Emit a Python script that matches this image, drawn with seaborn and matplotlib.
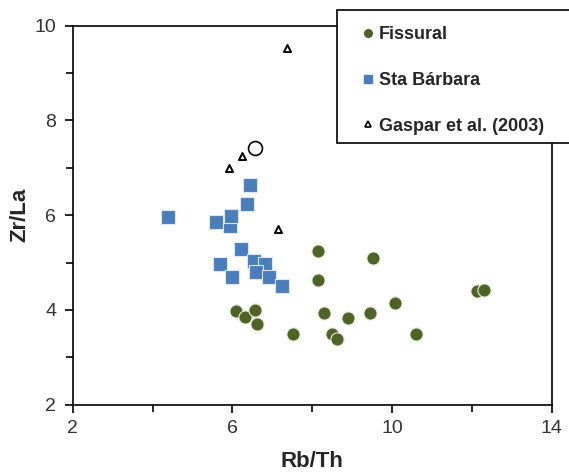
import matplotlib
matplotlib.use("Agg")
import matplotlib.pyplot as plt
import seaborn as sns
import pandas as pd
from matplotlib.lines import Line2D
from matplotlib.patches import Rectangle

# Data
fissural_x = [6.10, 6.32, 6.57, 6.62, 7.53, 8.14, 8.16, 8.30, 8.51, 8.62, 8.89, 9.53, 9.46, 10.09, 10.60, 12.14, 12.32]
fissural_y = [3.98, 3.86, 4.00, 3.70, 3.50, 5.24, 4.63, 3.94, 3.49, 3.38, 3.84, 5.09, 3.94, 4.15, 3.49, 4.41, 4.42]

stab_x = [4.40, 5.60, 5.95, 5.97, 6.45, 6.38, 6.21, 5.68, 6.00, 6.55, 6.81, 6.59, 6.91, 7.24]
stab_y = [5.97, 5.86, 5.77, 5.98, 6.63, 6.23, 5.28, 4.98, 4.69, 5.03, 4.98, 4.80, 4.69, 4.50]

gaspar_x = [7.37, 5.92, 6.25, 7.14]
gaspar_y = [9.52, 6.99, 7.25, 5.71]

open_x = [6.57]
open_y = [7.42]

labels = ["Fissural", "Sta Bárbara", "Gaspar et al. (2003)"]
x_ticks = [2, 6, 10, 14]
y_ticks = [2, 4, 6, 8, 10]

sns.set_style("white")
plt.rcParams["font.family"] = ["Liberation Sans", "DejaVu Sans"]

green = "#4F6228"
blue = "#4A7EBB"

W, H = 569, 472
fig = plt.figure(figsize=(W / 100, H / 100), dpi=100)
ax = fig.add_axes([72.7 / W, 1 - 404.7 / H, (551.5 - 72.7) / W, (404.7 - 25.7) / H])

df_f = pd.DataFrame({"x": fissural_x, "y": fissural_y})
df_s = pd.DataFrame({"x": stab_x, "y": stab_y})
df_g = pd.DataFrame({"x": gaspar_x, "y": gaspar_y})
df_o = pd.DataFrame({"x": open_x, "y": open_y})

sns.scatterplot(data=df_s, x="x", y="y", ax=ax, marker="s", s=90, color=blue,
                edgecolor="#dbe6f3", linewidth=0.8, zorder=3)
sns.scatterplot(data=df_f, x="x", y="y", ax=ax, marker="o", s=90, color=green,
                edgecolor="#e8eedc", linewidth=0.8, zorder=4)
sns.scatterplot(data=df_g, x="x", y="y", ax=ax, marker="^", s=26, color="white",
                edgecolor="black", linewidth=1.4, zorder=5)
sns.scatterplot(data=df_o, x="x", y="y", ax=ax, marker="o", s=100, color="white",
                edgecolor="black", linewidth=1.2, zorder=5)

ax.set_xlim(2, 14)
ax.set_ylim(2, 10)
ax.set_xticks(x_ticks)
ax.set_yticks(y_ticks)
ax.set_xticks([4, 8, 12], minor=True)
ax.set_yticks([3, 5, 7, 9], minor=True)
ax.tick_params(axis="both", which="both", direction="out", length=5, width=1.2,
               colors="black", labelcolor="#333333", labelsize=14,
               bottom=True, left=True)
ax.tick_params(axis="both", which="major", length=6)
ax.tick_params(axis="x", pad=5)
ax.tick_params(axis="y", pad=6)
for sp in ax.spines.values():
    sp.set_color("black")
    sp.set_linewidth(1.2)
    sp.set_visible(True)

ax.set_xlabel("Rb/Th", fontsize=16, fontweight="bold", labelpad=10)
ax.set_ylabel("Zr/La", fontsize=16, fontweight="bold", labelpad=3)

# legend box (extends past the right edge of the figure, as in the reference)
box = Rectangle((337 / W, 1 - 143 / H), (590 - 337) / W, (143 - 10) / H,
                transform=fig.transFigure, facecolor="white", edgecolor="black",
                linewidth=1.2, zorder=5)
fig.add_artist(box)

handles = [
    Line2D([], [], marker="o", linestyle="none", markersize=5.5, color=green, markeredgecolor=green),
    Line2D([], [], marker="s", linestyle="none", markersize=5.5, color=blue, markeredgecolor=blue),
    Line2D([], [], marker="^", linestyle="none", markersize=4, markerfacecolor="white",
           markeredgecolor="black", markeredgewidth=1.2),
]
leg = fig.legend(handles, labels, loc="upper left", bbox_to_anchor=(362.6 / W, 1 - 26 / H),
                 frameon=False, prop={"weight": "bold", "size": 13},
                 handlelength=0.6, handletextpad=0.3, labelspacing=1.6,
                 borderpad=0, borderaxespad=0)
leg.set_zorder(6)

fig.savefig("out.png", dpi=100)
